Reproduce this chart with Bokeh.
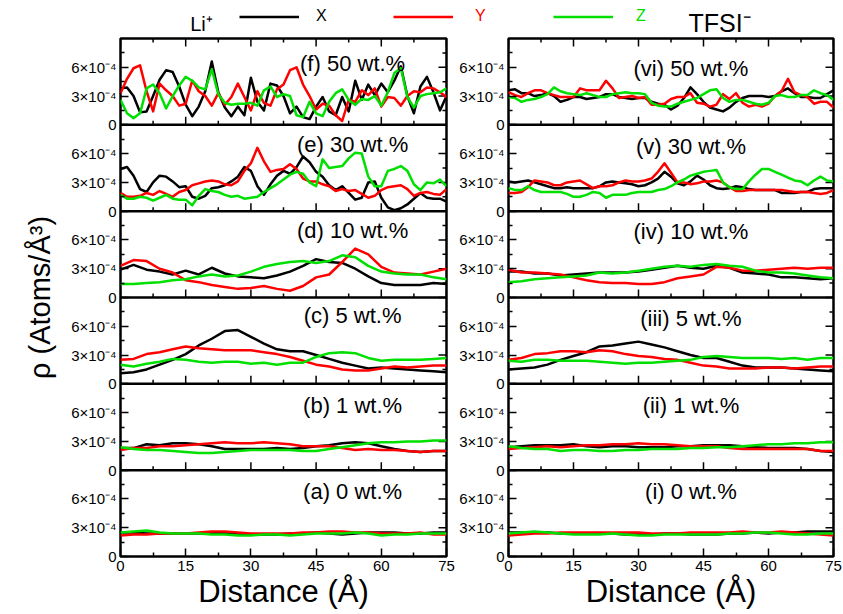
import numpy as np
from bokeh.plotting import figure
from bokeh.layouts import column, row
from bokeh.models import (Range1d, LinearAxis, FixedTicker, CustomJSTickFormatter,
                          Span, Legend, LegendItem, Label)
from bokeh.core.properties import value
from bokeh.embed import file_html
from bokeh.resources import INLINE

FONT = "Liberation Sans"
COLORS = {"X": "#000000", "Y": "#ff0000", "Z": "#00e000"}
SCALE = 1e-4          # values below are in units of 1e-4 atoms/A^3
PANEL = 9e-4          # y extent of one panel

# distance grids (Angstrom)
x_fine = [1.5 * i for i in range(51)]
x_coarse = [3.0 * i for i in range(26)]

x_ticks = [0, 15, 30, 45, 60, 75]
x_minor = [7.5, 22.5, 37.5, 52.5, 67.5]
y_ticks = [0, 3, 6]
y_minor = [1.5, 4.5, 7.5]

# ---------------- Li+ ----------------
li_f_x = [3.8, 3.9, 3.0, 1.3, 1.4, 3.0, 4.7, 5.7, 5.5, 4.0, 2.1, 0.9, 1.9, 3.5, 6.6, 3.4, 1.8, 0.9, 1.9, 1.0,
          4.9, 2.4, 1.5, 4.3, 4.1, 3.0, 1.2, 1.9, 0.8, 0.6, 1.9, 2.9, 1.4, 1.0, 2.9, 1.4, 4.6, 2.6, 4.2, 3.1,
          4.3, 3.4, 4.6, 6.1, 3.0, 1.2, 4.0, 5.0, 3.4, 1.5, 3.0]
li_f_y = [3.3, 4.8, 5.9, 6.2, 3.5, 1.4, 4.3, 3.6, 3.0, 2.0, 2.2, 4.6, 3.5, 3.0, 2.0, 3.3, 2.1, 2.9, 4.3, 2.9,
          1.5, 3.5, 2.3, 2.0, 3.7, 4.2, 5.7, 6.0, 4.2, 3.0, 1.6, 2.2, 2.0, 1.0, 0.4, 2.6, 2.4, 3.6, 3.1, 3.8,
          1.9, 2.9, 2.8, 2.0, 3.0, 3.5, 3.4, 3.9, 3.8, 3.4, 2.9]
li_f_z = [2.6, 1.2, 0.7, 1.2, 3.8, 4.2, 3.3, 1.7, 3.0, 4.1, 5.0, 4.6, 3.9, 3.7, 5.8, 3.2, 2.3, 2.1, 2.2, 2.2,
          2.3, 2.0, 3.6, 4.0, 2.9, 3.2, 3.0, 1.0, 0.8, 2.4, 1.2, 0.9, 2.4, 3.3, 3.7, 2.6, 2.1, 2.7, 2.6, 3.0,
          2.0, 3.4, 5.4, 5.9, 2.9, 1.8, 3.0, 3.2, 3.3, 3.4, 3.8]

li_e_x = [4.4, 4.6, 3.7, 2.3, 2.0, 3.0, 3.7, 3.6, 3.1, 2.5, 2.6, 1.5, 1.3, 1.6, 2.4, 2.5, 2.7, 3.1, 3.6, 4.6,
          4.2, 2.6, 1.7, 2.8, 3.7, 4.2, 3.9, 4.6, 5.7, 5.1, 4.1, 3.6, 2.7, 2.2, 2.6, 1.9, 1.2, 1.4, 3.0, 3.1,
          1.4, 0.4, 0.1, 0.3, 0.7, 1.3, 1.9, 1.4, 1.3, 1.3, 1.0]
li_e_y = [1.9, 1.5, 1.5, 1.6, 1.9, 1.7, 2.1, 1.8, 1.5, 2.0, 2.2, 2.7, 2.9, 3.1, 3.2, 3.1, 2.8, 2.7, 3.1, 4.2,
          5.0, 6.6, 5.2, 4.1, 4.3, 4.4, 4.9, 4.4, 3.4, 3.1, 3.1, 2.8, 2.6, 2.1, 2.3, 2.1, 2.2, 1.8, 1.4, 1.6,
          2.2, 2.5, 2.6, 2.7, 2.3, 1.6, 1.9, 2.0, 1.8, 1.7, 2.3]
li_e_z = [1.7, 1.3, 1.3, 1.5, 1.4, 1.1, 1.4, 1.7, 1.3, 1.2, 1.2, 0.6, 1.6, 2.3, 2.1, 2.0, 1.7, 1.5, 1.6, 1.3,
          1.4, 1.5, 2.0, 2.4, 2.8, 3.3, 3.8, 4.1, 3.9, 3.0, 2.6, 5.4, 4.5, 4.6, 4.7, 5.5, 6.1, 6.0, 3.6, 2.6,
          2.6, 4.2, 4.4, 4.7, 4.2, 2.8, 2.2, 3.0, 2.9, 3.3, 2.6]

li_d_x = [2.9, 3.4, 2.9, 2.7, 2.4, 2.8, 2.4, 3.1, 2.5, 2.2, 2.1, 2.0, 2.3, 2.7, 3.3, 4.0, 3.7, 3.6, 3.0, 2.2,
          1.5, 1.3, 1.3, 1.3, 1.5, 1.4]
li_d_y = [3.3, 3.9, 3.8, 3.0, 2.6, 1.8, 1.6, 1.3, 1.1, 0.9, 1.0, 1.2, 0.9, 0.7, 1.2, 2.1, 2.4, 3.7, 5.1, 4.5,
          3.2, 2.6, 2.5, 2.4, 2.7, 3.0]
li_d_z = [1.4, 1.4, 1.5, 1.6, 1.8, 1.9, 2.2, 2.4, 2.2, 2.3, 2.7, 3.2, 3.5, 3.7, 3.8, 3.6, 3.8, 4.4, 4.2, 3.3,
          2.7, 2.5, 2.4, 2.4, 2.1, 1.9]

li_c_x = [1.1, 1.2, 1.5, 2.0, 2.5, 3.1, 4.0, 4.7, 5.5, 5.6, 4.9, 4.2, 3.6, 3.4, 3.4, 3.0, 2.6, 2.2, 1.9, 1.6,
          1.7, 1.6, 1.5, 1.4, 1.3, 1.2]
li_c_y = [2.5, 2.6, 3.1, 3.3, 3.6, 3.9, 3.7, 3.6, 3.5, 3.5, 3.5, 3.3, 3.1, 2.8, 2.4, 2.0, 1.8, 1.5, 1.4, 1.4,
          1.6, 1.8, 1.7, 1.8, 1.9, 1.9]
li_c_z = [2.0, 1.8, 2.1, 2.3, 2.6, 2.5, 2.3, 2.2, 2.3, 2.3, 2.1, 2.2, 2.0, 2.2, 2.2, 2.8, 3.2, 3.3, 3.2, 2.7,
          2.4, 2.5, 2.5, 2.5, 2.6, 2.7]

li_b_x = [2.3, 2.3, 2.7, 2.6, 2.8, 2.8, 2.7, 2.5, 2.2, 2.2, 2.2, 2.2, 2.3, 2.2, 2.3, 2.5, 2.6, 2.8, 2.9, 2.8,
          2.5, 2.2, 2.0, 1.9, 2.0, 2.0]
li_b_y = [2.1, 2.3, 2.3, 2.5, 2.5, 2.6, 2.7, 2.8, 2.9, 2.8, 2.8, 2.9, 2.8, 2.7, 2.5, 2.5, 2.5, 2.3, 2.1, 2.2,
          2.1, 2.1, 2.0, 1.9, 2.0, 2.0]
li_b_z = [2.4, 2.2, 2.1, 2.1, 2.0, 1.9, 1.8, 1.8, 1.9, 2.0, 2.1, 2.1, 2.1, 2.1, 2.0, 2.0, 2.2, 2.4, 2.6, 2.8,
          2.9, 2.9, 3.0, 3.0, 3.1, 3.1]

li_a_x = [2.5, 2.5, 2.4, 2.4, 2.4, 2.4, 2.4, 2.4, 2.5, 2.4, 2.3, 2.3, 2.3, 2.4, 2.4, 2.5, 2.4, 2.3, 2.4, 2.5,
          2.5, 2.5, 2.4, 2.4, 2.5, 2.5]
li_a_y = [2.2, 2.3, 2.3, 2.4, 2.4, 2.4, 2.5, 2.6, 2.6, 2.5, 2.4, 2.4, 2.4, 2.4, 2.5, 2.5, 2.6, 2.6, 2.5, 2.5,
          2.4, 2.4, 2.4, 2.5, 2.3, 2.3]
li_a_z = [2.5, 2.6, 2.7, 2.5, 2.4, 2.4, 2.4, 2.3, 2.3, 2.2, 2.2, 2.3, 2.3, 2.2, 2.3, 2.4, 2.4, 2.4, 2.5, 2.4,
          2.2, 2.3, 2.3, 2.4, 2.4, 2.4]

# ---------------- TFSI- ----------------
tf_vi_x = [3.6, 3.7, 3.3, 3.3, 3.0, 3.1, 3.3, 3.0, 2.4, 2.6, 2.9, 2.9, 2.7, 2.8, 2.9, 3.2, 3.2, 2.9, 2.8, 2.7,
           2.8, 2.8, 2.4, 2.2, 2.1, 1.6, 2.0, 2.8, 3.9, 3.2, 2.4, 1.8, 1.6, 1.4, 1.8, 2.4, 2.8, 3.0, 3.0, 3.0,
           2.9, 3.0, 3.5, 3.8, 3.3, 2.9, 2.9, 2.8, 2.8, 3.2, 3.6]
tf_vi_y = [3.4, 3.1, 2.9, 3.3, 3.6, 3.6, 3.3, 3.1, 2.9, 2.9, 2.9, 3.8, 3.6, 3.6, 3.6, 4.6, 3.8, 2.8, 2.9, 3.0,
           2.8, 2.9, 2.1, 2.1, 2.2, 2.7, 2.9, 2.9, 3.3, 2.3, 2.2, 1.9, 2.1, 3.2, 2.7, 3.3, 2.3, 1.9, 2.1, 1.9,
           2.2, 3.0, 3.5, 4.8, 3.4, 3.1, 2.9, 2.2, 2.4, 2.4, 1.8]
tf_vi_z = [2.9, 2.8, 2.4, 2.6, 2.7, 2.9, 3.2, 3.9, 3.5, 3.3, 3.2, 3.1, 3.3, 3.1, 2.9, 2.9, 3.2, 3.3, 3.4, 3.3,
           3.3, 3.2, 2.3, 2.0, 1.9, 1.9, 2.2, 2.4, 2.6, 2.8, 3.2, 3.6, 3.7, 2.8, 2.4, 2.6, 2.6, 2.4, 2.2, 2.1,
           2.3, 3.0, 3.1, 2.9, 2.9, 3.1, 3.1, 3.6, 3.3, 3.1, 2.6]

tf_v_x = [3.1, 3.0, 3.1, 3.2, 3.0, 2.8, 2.6, 2.4, 2.4, 2.5, 2.4, 2.4, 2.4, 2.4, 2.6, 3.0, 3.1, 3.0, 2.9, 2.8,
          2.6, 2.7, 3.0, 3.4, 4.1, 3.6, 2.9, 2.7, 3.1, 3.7, 3.3, 2.7, 2.4, 2.3, 2.4, 2.6, 2.5, 2.3, 2.2, 2.2,
          2.2, 2.2, 1.9, 1.9, 1.9, 2.0, 2.0, 2.3, 2.4, 2.4, 2.4]
tf_v_y = [1.9, 1.9, 2.0, 2.5, 3.2, 3.1, 3.0, 2.7, 2.7, 3.0, 3.1, 3.2, 2.8, 2.4, 2.6, 2.6, 2.7, 3.0, 3.2, 3.1,
          3.1, 3.2, 3.4, 4.1, 5.0, 4.0, 3.0, 3.0, 2.8, 2.9, 3.1, 3.1, 3.2, 3.0, 2.5, 2.1, 2.1, 2.2, 2.2, 2.2,
          2.2, 2.2, 2.2, 2.1, 2.0, 2.0, 2.0, 1.9, 1.8, 1.9, 2.2]
tf_v_z = [2.4, 2.2, 2.2, 2.6, 2.2, 2.0, 2.0, 2.0, 2.0, 1.8, 1.5, 1.5, 1.7, 2.0, 1.9, 1.4, 1.7, 1.7, 1.7, 1.9,
          2.0, 2.0, 2.0, 2.2, 2.3, 2.6, 3.0, 3.3, 3.7, 3.9, 4.1, 4.2, 4.3, 3.0, 2.5, 2.3, 2.3, 3.1, 3.8, 4.4,
          4.4, 4.1, 3.8, 3.5, 3.2, 3.1, 2.7, 3.2, 3.6, 3.2, 3.1]

tf_iv_x = [2.7, 2.7, 2.5, 2.5, 2.3, 2.4, 2.5, 2.6, 2.6, 2.6, 2.7, 2.9, 3.1, 3.3, 3.1, 3.0, 3.3, 3.1, 2.6, 2.5,
           2.4, 2.1, 2.1, 2.0, 1.9, 2.0]
tf_iv_y = [2.9, 2.6, 2.6, 2.5, 2.4, 2.1, 1.8, 1.6, 1.5, 1.5, 1.4, 1.4, 1.6, 2.0, 2.2, 2.4, 3.2, 3.1, 2.8, 2.8,
           2.9, 3.0, 3.1, 3.0, 3.1, 3.1]
tf_iv_z = [1.6, 1.7, 1.9, 2.0, 2.1, 2.2, 2.3, 2.6, 2.5, 2.6, 2.8, 3.0, 3.2, 3.3, 3.2, 3.4, 3.5, 3.3, 3.2, 2.8,
           2.6, 2.6, 2.5, 2.3, 2.1, 2.0]

tf_iii_x = [1.5, 1.6, 1.7, 2.0, 2.5, 2.9, 3.3, 3.9, 4.0, 4.2, 4.4, 4.1, 3.8, 3.4, 3.0, 2.7, 2.7, 2.3, 1.9, 1.7,
            1.7, 1.7, 1.6, 1.5, 1.4, 1.3]
tf_iii_y = [2.5, 2.7, 3.1, 3.2, 3.4, 3.4, 3.3, 3.5, 3.4, 3.1, 2.9, 2.8, 2.6, 2.5, 2.2, 1.9, 1.8, 1.6, 1.6, 1.6,
            1.7, 1.7, 1.6, 1.7, 1.8, 1.8]
tf_iii_z = [2.4, 2.3, 2.5, 2.5, 2.4, 2.4, 2.4, 2.3, 2.2, 2.1, 2.2, 2.2, 2.3, 2.4, 2.5, 2.8, 2.9, 2.8, 2.7, 2.7,
            2.7, 2.6, 2.7, 2.5, 2.7, 2.7]

tf_ii_x = [2.4, 2.5, 2.6, 2.6, 2.6, 2.7, 2.5, 2.4, 2.5, 2.5, 2.4, 2.4, 2.4, 2.5, 2.5, 2.6, 2.6, 2.6, 2.5, 2.4,
           2.3, 2.3, 2.3, 2.2, 2.0, 1.9]
tf_ii_y = [2.2, 2.3, 2.4, 2.5, 2.4, 2.5, 2.6, 2.6, 2.7, 2.7, 2.8, 2.7, 2.7, 2.6, 2.5, 2.5, 2.5, 2.3, 2.2, 2.2,
           2.2, 2.2, 2.2, 2.2, 2.0, 2.0]
tf_ii_z = [2.5, 2.3, 2.2, 2.2, 2.0, 2.1, 2.1, 2.0, 2.0, 2.1, 2.1, 2.2, 2.2, 2.2, 2.3, 2.3, 2.4, 2.4, 2.5, 2.6,
           2.7, 2.7, 2.8, 2.8, 2.9, 2.9]

tf_i_x = [2.5, 2.5, 2.5, 2.5, 2.4, 2.4, 2.4, 2.4, 2.4, 2.3, 2.3, 2.3, 2.4, 2.4, 2.3, 2.3, 2.3, 2.4, 2.4, 2.5,
          2.4, 2.5, 2.5, 2.6, 2.6, 2.6]
tf_i_y = [2.2, 2.3, 2.4, 2.4, 2.5, 2.5, 2.5, 2.5, 2.5, 2.5, 2.5, 2.4, 2.4, 2.4, 2.5, 2.5, 2.5, 2.5, 2.6, 2.5,
          2.5, 2.6, 2.5, 2.4, 2.3, 2.2]
tf_i_z = [2.4, 2.5, 2.6, 2.5, 2.4, 2.3, 2.3, 2.3, 2.4, 2.3, 2.2, 2.2, 2.3, 2.3, 2.3, 2.3, 2.3, 2.4, 2.4, 2.5,
          2.5, 2.4, 2.3, 2.3, 2.4, 2.4]

li_labels = ["(a) 0 wt.%", "(b) 1 wt.%", "(c) 5 wt.%", "(d) 10 wt.%", "(e) 30 wt.%", "(f) 50 wt.%"]
tf_labels = ["(i) 0 wt.%", "(ii) 1 wt.%", "(iii) 5 wt.%", "(iv) 10 wt.%", "(v) 30 wt.%", "(vi) 50 wt.%"]
li_label_y = [6.8, 6.75, 7.15, 6.95, 7.0, 6.35]
tf_label_y = [6.8, 6.75, 6.8, 6.9, 6.7, 5.9]

# panels listed bottom -> top
li_panels = [
    (x_coarse, li_a_x, li_a_y, li_a_z),
    (x_coarse, li_b_x, li_b_y, li_b_z),
    (x_coarse, li_c_x, li_c_y, li_c_z),
    (x_coarse, li_d_x, li_d_y, li_d_z),
    (x_fine, li_e_x, li_e_y, li_e_z),
    (x_fine, li_f_x, li_f_y, li_f_z),
]
tf_panels = [
    (x_coarse, tf_i_x, tf_i_y, tf_i_z),
    (x_coarse, tf_ii_x, tf_ii_y, tf_ii_z),
    (x_coarse, tf_iii_x, tf_iii_y, tf_iii_z),
    (x_coarse, tf_iv_x, tf_iv_y, tf_iv_z),
    (x_fine, tf_v_x, tf_v_y, tf_v_z),
    (x_fine, tf_vi_x, tf_vi_y, tf_vi_z),
]

HEAD_H = 36
COL_H = 578


def style_axis(ax):
    ax.axis_line_color = None
    ax.major_tick_in = 8
    ax.major_tick_out = 0
    ax.minor_tick_in = 4
    ax.minor_tick_out = 0
    ax.major_tick_line_width = 1.5
    ax.minor_tick_line_width = 1.5
    ax.major_tick_line_color = "black"
    ax.minor_tick_line_color = "black"
    ax.major_label_text_font = FONT
    ax.major_label_text_font_size = "15px"
    ax.major_label_text_color = "black"
    ax.major_label_standoff = 4
    ax.axis_label_text_font = FONT
    ax.axis_label_text_font_style = "normal"
    ax.axis_label_text_color = "black"


def make_column(panels, labels, label_y, label_x, width, bl, br, ylabel):
    p = figure(width=width, height=COL_H, x_range=Range1d(0, 75), y_range=Range1d(0, 6 * PANEL),
               x_axis_type=None, y_axis_type=None, toolbar_location=None, output_backend="svg",
               min_border_left=bl, min_border_right=br, min_border_top=2, min_border_bottom=58)
    p.outline_line_color = "black"
    p.outline_line_width = 2.5
    p.outline_line_alpha = 1.0
    p.background_fill_color = "white"
    p.border_fill_color = "white"

    p.extra_y_ranges = {f"p{k}": Range1d(-k * PANEL, (6 - k) * PANEL) for k in range(6)}

    y_major_all = [(9 * k + t) * SCALE for k in range(6) for t in y_ticks]
    y_minor_all = [(9 * k + t) * SCALE for k in range(6) for t in y_minor]

    yfmt = CustomJSTickFormatter(code=r"""
        const r = Math.round(tick * 1e4) % 9;
        if (r === 0) { return "0"; }
        if (r === 3) { return "3\u00d710\u207b\u2074"; }
        return "6\u00d710\u207b\u2074";
    """)
    ax_l = LinearAxis(ticker=FixedTicker(ticks=y_major_all, minor_ticks=y_minor_all), formatter=yfmt)
    style_axis(ax_l)
    if ylabel:
        ax_l.axis_label = ylabel
        ax_l.axis_label_text_font_size = "29px"
        ax_l.axis_label_standoff = 12
    p.add_layout(ax_l, "left")

    ax_b = LinearAxis(ticker=FixedTicker(ticks=x_ticks, minor_ticks=x_minor), axis_label="Distance (\u00c5)")
    style_axis(ax_b)
    ax_b.axis_label_text_font_size = "31px"
    ax_b.axis_label_standoff = 0
    p.add_layout(ax_b, "below")

    tick_style = dict(length_units="screen", line_color="black", line_width=1.5)
    # mirrored ticks on the right edge
    p.ray(x=[75] * len(y_major_all), y=y_major_all, length=8, angle=np.pi, **tick_style)
    p.ray(x=[75] * len(y_minor_all), y=y_minor_all, length=4, angle=np.pi, **tick_style)
    # ticks on the top edge of the uppermost panel
    p.ray(x=x_ticks, y=[6 * PANEL] * len(x_ticks), length=8, angle=-np.pi / 2, **tick_style)
    p.ray(x=x_minor, y=[6 * PANEL] * len(x_minor), length=4, angle=-np.pi / 2, **tick_style)

    # panel separators and their inward bottom ticks
    for k in range(1, 6):
        p.add_layout(Span(location=k * PANEL, dimension="width", line_color="black", line_width=2.5))
        p.ray(x=x_ticks, y=[k * PANEL] * len(x_ticks), length=8, angle=np.pi / 2, **tick_style)
        p.ray(x=x_minor, y=[k * PANEL] * len(x_minor), length=4, angle=np.pi / 2, **tick_style)

    for k, (xs, vx, vy, vz) in enumerate(panels):
        name = f"p{k}"
        for vals, key in ((vx, "X"), (vy, "Y"), (vz, "Z")):
            p.line(xs, [v * SCALE for v in vals], y_range_name=name, line_color=COLORS[key],
                   line_width=2.5, line_join="round")
        p.add_layout(Label(x=label_x, y=label_y[k] * SCALE, y_range_name=name, text=labels[k],
                           text_font=FONT, text_font_size="22px", text_align="center",
                           text_baseline="middle", text_color="black"))
    return p


left = make_column(li_panels, li_labels, li_label_y, 53.4, 456, 120, 10, "\u03c1 (Atoms/\u00c5\u00b3)")
right = make_column(tf_panels, tf_labels, tf_label_y, 42.1, 387, 51, 10, None)

# header with species names and the legend
header = figure(width=843, height=HEAD_H, x_range=Range1d(0, 843), y_range=Range1d(0, HEAD_H),
                x_axis_type=None, y_axis_type=None, toolbar_location=None, output_backend="svg",
                min_border=0)
header.outline_line_color = None
header.add_layout(Label(x=201, y=12.5, text="Li\u207a", text_align="center", text_baseline="middle",
                        text_font=FONT, text_font_size="20px", text_color="black"))
header.add_layout(Label(x=719, y=13.5, text="TFSI\u207b", text_align="center", text_baseline="middle",
                        text_font=FONT, text_font_size="25px", text_color="black"))
for key, gx, standoff in (("X", 239, 17), ("Y", 393, 22), ("Z", 553, 23)):
    r = header.line(x=[-30, -20], y=[-30, -30], line_color=COLORS[key], line_width=2.5)
    leg = Legend(items=[LegendItem(label=value(key), renderers=[r])], location=(gx, 11),
                 orientation="horizontal", glyph_width=60, glyph_height=17, label_standoff=standoff,
                 padding=0, margin=0, spacing=0, border_line_color=None, background_fill_alpha=0,
                 label_text_font=FONT, label_text_font_size="16px", label_text_color=COLORS[key],
                 label_height=17)
    header.add_layout(leg)

layout = column(header, row(left, right))

open("out.html", "w", encoding="utf-8").write(file_html(layout, INLINE, title="density profiles"))
